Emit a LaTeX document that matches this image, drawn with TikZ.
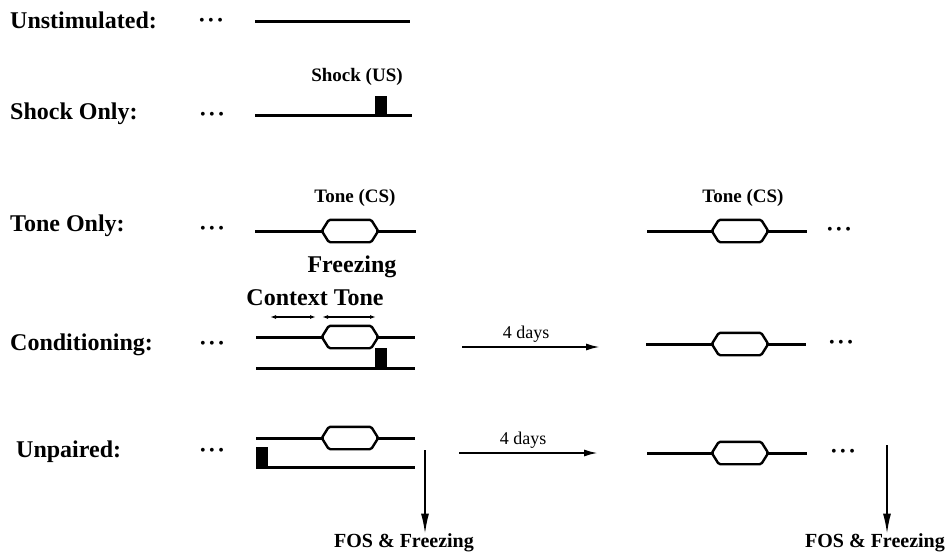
\documentclass[tikz,border=0pt]{standalone}
\usepackage{fontspec}
\setmainfont{Liberation Serif}
\usetikzlibrary{arrows.meta}
\tikzset{
  lab/.style={font=\fontsize{24}{26}\selectfont\bfseries, inner sep=0pt, anchor=west},
  small/.style={font=\fontsize{19}{21}\selectfont\bfseries, inner sep=0pt},
  days/.style={font=\fontsize{18}{20}\selectfont, inner sep=0pt},
  fos/.style={font=\fontsize{20}{22}\selectfont\bfseries, inner sep=0pt},
  dotsn/.style={font=\fontsize{16}{17}\selectfont, inner sep=0pt},
  tl/.style={line width=3pt},
  hexbox/.style={minimum width=56pt, minimum height=22pt, inner sep=0pt, draw=none},
  shockbox/.style={fill=black, draw=none, minimum width=12pt, minimum height=20pt, inner sep=0pt, anchor=south},
  dayarrow/.style={line width=2pt, -{Latex[length=14pt,width=7pt]}},
  fosarrow/.style={line width=1.6pt, -{Latex[length=20pt,width=8pt]}},
  ctxarrow/.style={line width=1.4pt, {Latex[length=6pt,width=4pt]}-{Latex[length=6pt,width=4pt]}}
}
\newcommand{\hexdraw}[1]{%
  \draw[line width=2.4pt, rounded corners=1.5pt] (#1.west) -- ([xshift=7pt]#1.north west) -- ([xshift=-7pt]#1.north east) -- (#1.east) -- ([xshift=-7pt]#1.south east) -- ([xshift=7pt]#1.south west) -- cycle;}
\newcommand{\threedots}{\textbullet\hspace{3.5pt}\textbullet\hspace{3.5pt}\textbullet}
\begin{document}
\begin{tikzpicture}[x=1pt,y=-1pt]
\useasboundingbox (0,0) rectangle (949,556);

% row labels
\node[lab] (lUn) at (10,20) {Unstimulated:};
\node[lab] (lSh) at (10,114) {Shock Only:};
\node[lab] (lTo) at (10,226) {Tone Only:};
\node[lab] (lCo) at (10,345) {Conditioning:};
\node[lab] (lUp) at (16,452) {Unpaired:};

% dots
\node[dotsn] (d1) at (211,22) {\threedots};
\node[dotsn] (d2) at (212,116) {\threedots};
\node[dotsn] (d3) at (212,230) {\threedots};
\node[dotsn] (d4) at (212,345) {\threedots};
\node[dotsn] (d5) at (212,452) {\threedots};

% row 1
\coordinate (u1) at (255,22);
\coordinate (u2) at (410,22);
\draw[tl] (u1) -- (u2);

% row 2
\node[small] (shL) at (357,77) {Shock (US)};
\coordinate (s1) at (255,116);
\coordinate (s2) at (412,116);
\draw[tl] (s1) -- (s2);
\node[shockbox] (sb) at (381,116) {};

% row 3 left
\node[small] (tcL) at (355,198) {Tone (CS)};
\coordinate (t1) at (255,231);
\node[hexbox] (tb1) at (350,231) {};
\coordinate (t2) at (416,231);
\draw[tl] (t1) -- (tb1.west);
\draw[tl] (tb1.east) -- (t2);
\hexdraw{tb1}

% row 3 right
\node[small] (tcR) at (743,198) {Tone (CS)};
\coordinate (r1) at (647,231);
\node[hexbox] (tb2) at (740,231) {};
\coordinate (r2) at (807,231);
\draw[tl] (r1) -- (tb2.west);
\draw[tl] (tb2.east) -- (r2);
\hexdraw{tb2}
\node[dotsn] (d6) at (839,231) {\threedots};

% freezing labels
\node[lab, anchor=center] (fr) at (352,267) {Freezing};
\node[lab, anchor=center] (ct) at (315,298) {Context Tone};
\coordinate (ca1) at (270,317);
\coordinate (ca2) at (316,317);
\coordinate (ca3) at (322,317);
\coordinate (ca4) at (376,317);
\draw[ctxarrow] (ca1) -- (ca2);
\draw[ctxarrow] (ca3) -- (ca4);

% conditioning left
\coordinate (c1) at (256,337);
\node[hexbox] (tb3) at (350,337) {};
\coordinate (c2) at (415,337);
\draw[tl] (c1) -- (tb3.west);
\draw[tl] (tb3.east) -- (c2);
\hexdraw{tb3}
\coordinate (c3) at (256,368);
\coordinate (c4) at (415,368);
\draw[tl] (c3) -- (c4);
\node[shockbox] (cb) at (381,368) {};

% conditioning arrow
\coordinate (a1) at (462,347);
\coordinate (a2) at (600,347);
\draw[dayarrow] (a1) -- (a2);
\node[days] (dy1) at (526,334) {4 days};

% conditioning right
\coordinate (cr1) at (646,344);
\node[hexbox] (tb4) at (740,344) {};
\coordinate (cr2) at (806,344);
\draw[tl] (cr1) -- (tb4.west);
\draw[tl] (tb4.east) -- (cr2);
\hexdraw{tb4}
\node[dotsn] (d7) at (841,344) {\threedots};

% unpaired left
\coordinate (p1) at (256,438);
\node[hexbox] (tb5) at (350,438) {};
\coordinate (p2) at (415,438);
\draw[tl] (p1) -- (tb5.west);
\draw[tl] (tb5.east) -- (p2);
\hexdraw{tb5}
\coordinate (p3) at (256,467);
\coordinate (p4) at (415,467);
\draw[tl] (p3) -- (p4);
\node[shockbox, anchor=south west] (pb) at (256,467) {};

% unpaired arrow
\coordinate (b1) at (459,453);
\coordinate (b2) at (598,453);
\draw[dayarrow] (b1) -- (b2);
\node[days] (dy2) at (523,440) {4 days};

% unpaired right
\coordinate (pr1) at (647,453);
\node[hexbox] (tb6) at (740,453) {};
\coordinate (pr2) at (807,453);
\draw[tl] (pr1) -- (tb6.west);
\draw[tl] (tb6.east) -- (pr2);
\hexdraw{tb6}
\node[dotsn] (d8) at (843,453) {\threedots};

% FOS arrows
\node[fos] (fosL) at (404,543) {FOS \& Freezing};
\node[fos] (fosR) at (875,543) {FOS \& Freezing};
\coordinate (f1) at (425,450);
\coordinate (f2) at (887,445);
\draw[fosarrow] (f1) -- (fosL.north -| f1);
\draw[fosarrow] (f2) -- (fosR.north -| f2);
\end{tikzpicture}
\end{document}
